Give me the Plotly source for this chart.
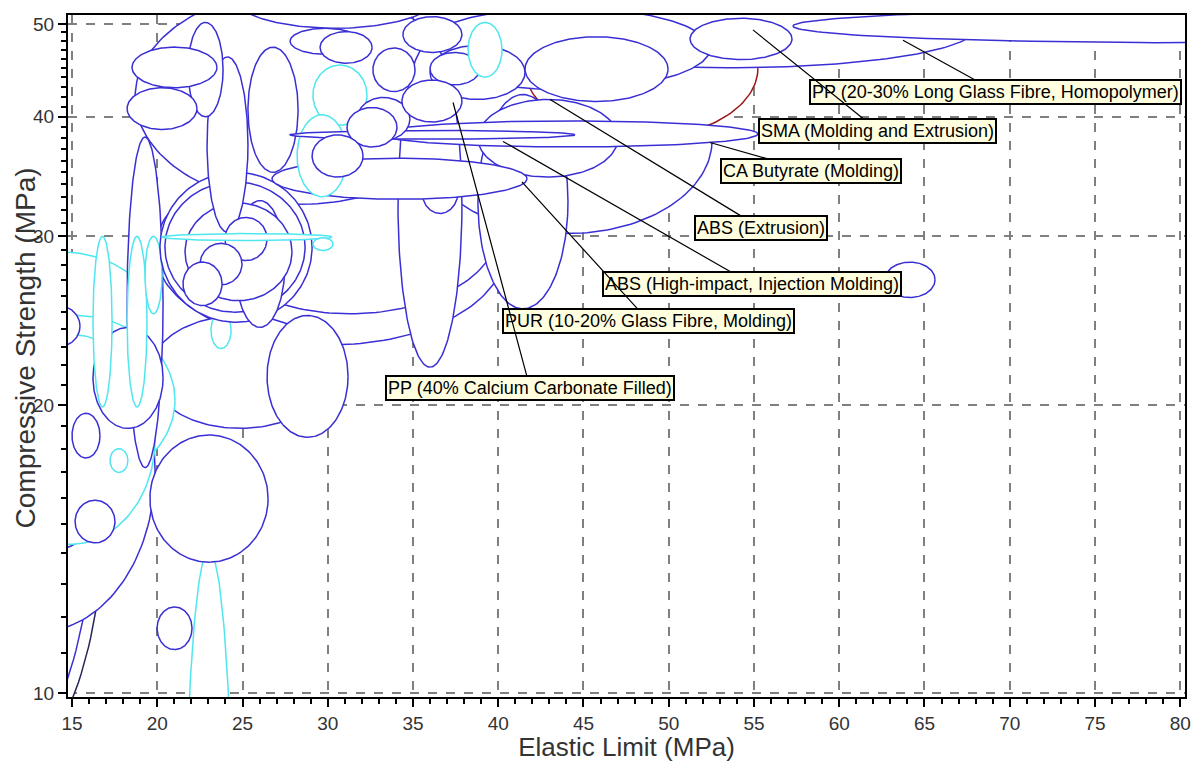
import numpy as np
import plotly.graph_objects as go

# Material property ranges (drawing order, back to front)
# Elastic limit range (MPa)
e_lo = [19.87, 22.51, 18.70, 24.27, 35.53, 41.57, 38.93, 35.41, 57.29,
        0.04, 0.57, 6.38, 8.72, 19.57, 8.43, 9.31, 9.90, 18.23, 16.23, 16.23,
        18.23, 19.28, 12.89, 15.00, 17.23, 15.18, 21.63, 19.57, 19.99, 26.44, 23.15,
        20.16, 20.45, 24.56, 21.63, 22.92, 25.32, 21.80, 18.52, 18.23, 23.97,
        22.51, 21.51, 20.28, 29.13,
        34.12, 38.81, 35.53,
        27.79, 29.55, 29.13, 32.65, 36.00, 34.41, 36.00, 38.23, 51.25,
        41.57, 38.81, 26.73, 33.06, 28.20, 27.79, 31.72, 31.13, 29.08, 34.35, 62.68]
e_hi = [40.40, 40.10, 38.05, 36.58, 52.54, 55.23, 67.96, 52.42, 104.6,
        16.82, 16.29, 19.87, 17.52, 30.13, 20.16, 21.04, 19.87, 20.34, 20.34, 17.35,
        19.40, 20.28, 15.47, 16.64, 18.28, 17.52, 24.44, 26.50, 22.04, 31.19, 24.33,
        29.08, 28.67, 27.49, 27.90, 25.32, 28.26, 23.86, 23.50, 22.33, 26.44,
        24.97, 23.80, 30.25, 30.31,
        37.87, 44.09, 37.64,
        31.89, 32.60, 32.30, 35.12, 41.57, 37.87, 38.93, 40.22, 57.23,
        49.96, 47.02, 41.69, 55.23, 31.13, 44.50, 34.82, 34.06, 32.07, 37.87, 65.62]
# Compressive strength range (MPa)
c_lo = [23.1, 24.9, 32.4, 49.5, 30.2, 38.0, 45.0, 42.7, 47.8,
        7.55, 7.73, 11.6, 14.0, 18.9, 19.9, 16.5, 14.3, 17.2, 18.9, 19.9,
        19.9, 24.9, 23.0, 17.6, 17.0, 14.35, 2.62, 13.7, 11.1, 18.5, 22.9,
        24.4, 25.0, 24.1, 25.7, 30.3, 35.0, 40.0, 42.9, 38.8, 28.3,
        26.7, 25.4, 29.7, 29.0,
        21.9, 25.2, 31.7,
        46.5, 45.5, 39.2, 42.5, 41.7, 46.7, 43.2, 44.0, 45.9,
        41.5, 34.6, 32.8, 37.2, 33.0, 37.9, 37.8, 37.2, 34.6, 39.5, 25.9]
c_hi = [36.5, 38.1, 54.3, 58.3, 47.3, 53.2, 54.3, 52.0, 51.8,
        30.5, 32.7, 25.2, 20.6, 24.8, 28.9, 24.8, 23.7, 38.1, 24.1, 30.0,
        30.0, 30.0, 25.4, 19.6, 18.0, 15.9, 14.1, 18.6, 12.3, 24.8, 25.0,
        35.0, 34.2, 32.7, 32.5, 46.2, 47.3, 50.2, 47.3, 42.9, 31.4,
        29.5, 28.2, 30.2, 29.9,
        47.8, 42.2, 35.2,
        49.5, 49.1, 45.3, 47.2, 47.5, 50.9, 46.7, 50.2, 50.7,
        48.5, 41.7, 36.2, 39.6, 40.2, 38.7, 41.9, 40.9, 38.3, 43.7, 28.2]
# family: b = blue, c = cyan, r = dark red, n = navy
family = list("bbbbbrbbb" + "nbbbbcccbbcccbbcbcbbbc" + "bbbbbbbbbbbbcc" + "bbb"
              + "bbcbbbbcb" + "bbbbcbbbbbb")

# Labelled materials: text, target point, label position (MPa)
lab_text = ["PP (20-30% Long Glass Fibre, Homopolymer)", "SMA (Molding and Extrusion)",
            "CA Butyrate (Molding)", "ABS (Extrusion)",
            "ABS (High-impact, Injection Molding)", "PUR (10-20% Glass Fibre, Molding)",
            "PP (40% Calcium Carbonate Filled)"]
lab_tx = [63.74, 54.94, 52.42, 43.04, 40.28, 41.39, 37.35]
lab_ty = [48.1, 49.3, 37.6, 41.7, 37.7, 34.2, 41.4]
lab_x = [69.19, 62.27, 58.34, 55.41, 54.88, 48.84, 41.86]
lab_y = [42.5, 38.7, 35.1, 30.6, 26.75, 24.45, 20.85]

x_ticks = list(range(15, 81, 5))
y_ticks = [10, 20, 30, 40, 50]

line_col = {"b": "#3a2fd4", "c": "#4fe6f0", "r": "#9a1a1a", "n": "#23235a"}
FONT = "Arial, Liberation Sans, sans-serif"

fig = go.Figure()
t = np.linspace(0, 2 * np.pi, 181)
for lo, hi, clo, chi, f in zip(e_lo, e_hi, c_lo, c_hi, family):
    cx, rx = (lo + hi) / 2, (hi - lo) / 2
    ly0, ly1 = np.log10(clo), np.log10(chi)
    cy, ry = (ly0 + ly1) / 2, (ly1 - ly0) / 2
    fig.add_trace(go.Scatter(
        x=cx + rx * np.cos(t), y=10 ** (cy + ry * np.sin(t)),
        mode="lines", fill="toself", fillcolor="white",
        line=dict(color=line_col[f], width=1.5),
        hoverinfo="skip", showlegend=False))

for txt, tx, ty, lx, lyv in zip(lab_text, lab_tx, lab_ty, lab_x, lab_y):
    fig.add_annotation(
        x=tx, y=np.log10(ty), ax=lx, ay=np.log10(lyv), axref="x", ayref="y",
        xref="x", yref="y", text=txt, showarrow=True, arrowhead=0,
        arrowwidth=1.2, arrowcolor="black",
        font=dict(family=FONT, size=18, color="black"),
        bgcolor="#ffffe0", bordercolor="black", borderwidth=2, borderpad=1)

# y axis title placed beside the tick labels
fig.add_annotation(text="Compressive Strength (MPa)", xref="paper", yref="paper",
                   x=-0.0385, y=0.5125, xanchor="center", yanchor="middle", textangle=-90,
                   showarrow=False, font=dict(family=FONT, size=28, color="#333333"))

fig.update_layout(
    width=1195, height=762, paper_bgcolor="white", plot_bgcolor="white",
    margin=dict(l=68, r=10, t=15, b=65), showlegend=False,
    font=dict(family=FONT, color="#333333"),
)
fig.update_xaxes(
    range=[14.765, 80.28], tickvals=x_ticks, ticks="outside", ticklen=8,
    tickwidth=2, tickcolor="black", tickfont=dict(size=19, color="#333333"),
    showline=True, linecolor="black", linewidth=2, mirror=True,
    showgrid=True, gridcolor="#808080", griddash="dash", gridwidth=2,
    zeroline=False, automargin=False,
    minor=dict(dtick=1, ticks="outside", ticklen=5, tickwidth=1.5, tickcolor="black", showgrid=False),
    title=dict(text="Elastic Limit (MPa)", font=dict(size=26, color="#333333"), standoff=2),
)
fig.update_yaxes(
    type="log", range=[np.log10(9.904), np.log10(51.1)], tickvals=y_ticks,
    ticktext=[str(v) for v in y_ticks], ticks="outside", ticklen=8, tickwidth=2,
    tickcolor="black", tickfont=dict(size=19, color="#333333"),
    showline=True, linecolor="black", linewidth=2, mirror=True,
    showgrid=True, gridcolor="#808080", griddash="dash", gridwidth=2,
    zeroline=False, automargin=False,
    minor=dict(tickvals=[v for v in range(11, 51) if v % 10], ticks="outside", ticklen=5,
               tickwidth=1.5, tickcolor="black", showgrid=False),
)
fig.write_html("out.html")
